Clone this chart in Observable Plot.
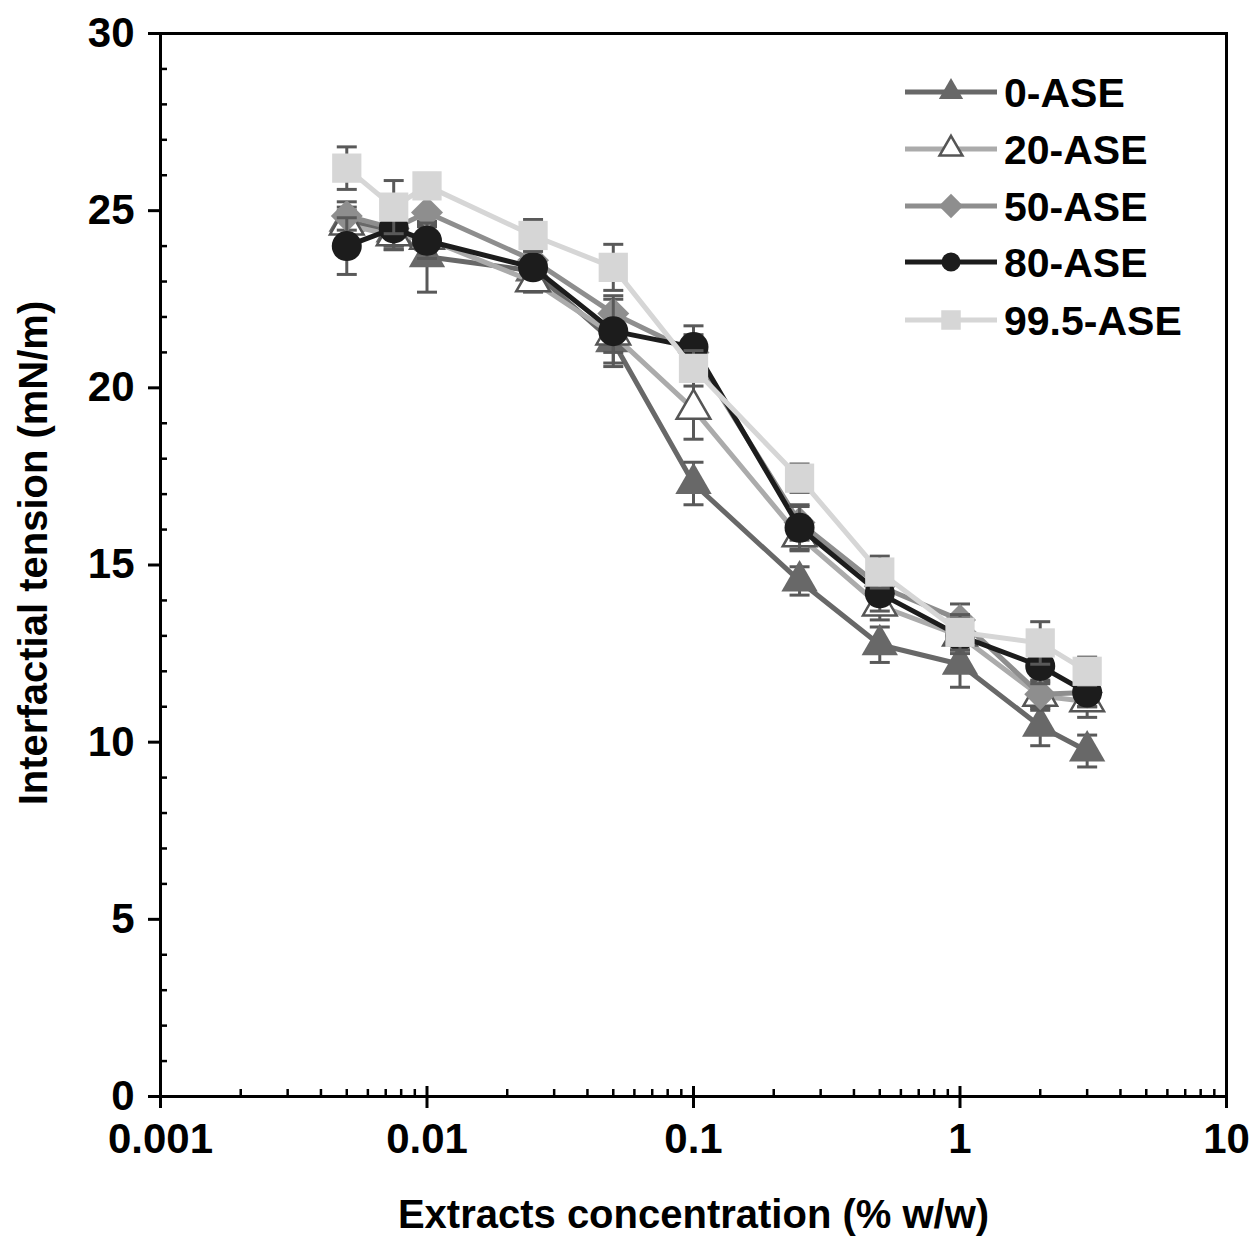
<!DOCTYPE html>
<html><head><meta charset="utf-8">
<script src="https://cdn.jsdelivr.net/npm/d3@7"></script>
<script src="https://cdn.jsdelivr.net/npm/@observablehq/plot@0.6"></script>
<style>
html,body{margin:0;padding:0;background:#fff;}
#wrap{position:relative;width:1253px;height:1236px;}
#legend{position:absolute;left:0;top:0;pointer-events:none;}
</style></head><body><div id="wrap"></div>
<script>
// ---- data ----
const concentrations = [0.005, 0.0075, 0.01, 0.025, 0.05, 0.1, 0.25, 0.5, 1, 2, 3];
const seriesNames = ["0-ASE", "20-ASE", "50-ASE", "80-ASE", "99.5-ASE"];
const ase0     = [24.7, 24.4, 23.7, 23.3, 21.3, 17.3, 14.55, 12.75, 12.2, 10.45, 9.75];
const ase0Err  = [0.4, 0.4, 1.0, 0.3, 0.6, 0.6, 0.4, 0.5, 0.65, 0.55, 0.45];
const ase20    = [24.6, 24.3, 24.2, 23.0, 21.5, 19.4, 15.8, 13.85, 13.0, 11.3, 11.15];
const ase20Err = [0.4, 0.4, 0.4, 0.3, 0.5, 0.85, 0.4, 0.4, 0.4, 0.4, 0.45];
const ase50    = [24.85, 24.5, 24.95, 23.6, 22.1, 21.0, 16.2, 14.4, 13.45, 11.35, 11.4];
const ase50Err = [0.4, 0.5, 0.4, 0.4, 0.4, 0.5, 0.5, 0.4, 0.45, 0.4, 0.4];
const ase80    = [24.0, 24.5, 24.15, 23.4, 21.6, 21.15, 16.05, 14.2, 13.0, 12.15, 11.4];
const ase80Err = [0.8, 0.6, 0.5, 0.3, 1.0, 0.6, 0.6, 0.5, 0.5, 0.5, 0.4];
const ase995    = [26.2, 25.1, 25.7, 24.3, 23.4, 20.55, 17.45, 14.8, 13.1, 12.8, 12.0];
const ase995Err = [0.6, 0.75, 0.35, 0.45, 0.65, 0.5, 0.4, 0.45, 0.5, 0.6, 0.4];
const xTicks = [0.001, 0.01, 0.1, 1, 10];
const xTickLabels = ["0.001", "0.01", "0.1", "1", "10"];
const yTicks = [0, 5, 10, 15, 20, 25, 30];
const xTitle = "Extracts concentration (% w/w)";
const yTitle = "Interfactial tension (mN/m)";

// ---- styles ----
const FONT = "'Liberation Sans', Arial, sans-serif";
const styles = [
  {line: "#686868", symbol: "triangle", fill: "#686868", stroke: "none", sw: 0, r: 13.5, lr: 9},
  {line: "#ababab", symbol: "triangle", fill: "#ffffff", stroke: "#555555", sw: 2.5, r: 12.5, lr: 8.5},
  {line: "#8e8e8e", symbol: "diamond2", fill: "#8e8e8e", stroke: "none", sw: 0, r: 14.4, lr: 11},
  {line: "#1c1c1c", symbol: "circle", fill: "#1c1c1c", stroke: "none", sw: 0, r: 15, lr: 9.5},
  {line: "#d6d6d6", symbol: "square", fill: "#d6d6d6", stroke: "none", sw: 0, r: 16.5, lr: 11}
];
const values = [ase0, ase20, ase50, ase80, ase995];
const errs = [ase0Err, ase20Err, ase50Err, ase80Err, ase995Err];

const series = seriesNames.map((name, i) =>
  concentrations.map((c, j) => ({series: name, x: c, y: values[i][j], err: errs[i][j]})));

const xMinor = [];
for (let e = -3; e < 1; e++) for (let k = 2; k <= 9; k++) xMinor.push(+(k * Math.pow(10, e)).toPrecision(3));
const yMinor = d3.range(1, 30).filter(v => v % 5 !== 0);

const capSymbol = {draw(ctx) { ctx.moveTo(-10, 0); ctx.lineTo(10, 0); }};
const errColor = "#595959";

const marks = [];
series.forEach((data, i) => {
  const s = styles[i];
  marks.push(Plot.line(data, {x: "x", y: "y", stroke: s.line, strokeWidth: 5}));
  marks.push(Plot.ruleX(data, {x: "x", y1: d => d.y - d.err, y2: d => d.y + d.err, stroke: errColor, strokeWidth: 3}));
  marks.push(Plot.dot(data, {x: "x", y: d => d.y + d.err, symbol: capSymbol, stroke: errColor, strokeWidth: 3, fill: "none"}));
  marks.push(Plot.dot(data, {x: "x", y: d => d.y - d.err, symbol: capSymbol, stroke: errColor, strokeWidth: 3, fill: "none"}));
  marks.push(Plot.dot(data, {x: "x", y: "y", symbol: s.symbol, r: s.r, fill: s.fill, stroke: s.stroke, strokeWidth: s.sw}));
});

const chart = Plot.plot({
  width: 1253,
  height: 1236,
  marginLeft: 160,
  marginRight: 27,
  marginTop: 33,
  marginBottom: 140,
  style: {fontFamily: FONT, fontSize: "40px", fontWeight: "bold", color: "#000", background: "#fff"},
  x: {type: "log", domain: [0.001, 10]},
  y: {domain: [0, 30]},
  marks: [
    ...marks,
    Plot.frame({stroke: "#000", strokeWidth: 3}),
    Plot.axisY({ticks: yTicks, tickSize: 12, tickPadding: 14, strokeWidth: 3, label: null, fontSize: 42, fontWeight: "bold"}),
    Plot.axisY({ticks: [], label: yTitle, labelAnchor: "center", labelArrow: "none", labelOffset: 142, fontSize: 40, fontWeight: "bold"}),
    Plot.axisY({ticks: yMinor, tickSize: 7, dx: 7, strokeWidth: 2.5, tickFormat: () => "", label: null}),
    Plot.axisX({ticks: xTicks, tickSize: 12, tickPadding: 15, strokeWidth: 3, tickFormat: (d) => xTickLabels[xTicks.indexOf(d)], label: null, fontSize: 42, fontWeight: "bold"}),
    Plot.axisX({ticks: [], label: xTitle, labelAnchor: "center", labelArrow: "none", labelOffset: 131, fontSize: 40, fontWeight: "bold"}),
    Plot.axisX({ticks: xTicks, tickSize: 10, dy: -10, strokeWidth: 3, tickFormat: () => "", label: null}),
    Plot.axisX({ticks: xMinor, tickSize: 7, dy: -7, strokeWidth: 2.5, tickFormat: () => "", label: null})
  ]
});
const wrap = document.getElementById("wrap");
wrap.appendChild(chart);

// nudge the y-axis title slightly upward, as in the reference
chart.querySelectorAll('[aria-label="y-axis label"]').forEach(g => {
  const t = g.getAttribute("transform") || "";
  g.setAttribute("transform", `translate(0,-12) ${t}`);
});

// ---- legend overlay ----
const leg = d3.select(wrap).append("svg").attr("id", "legend").attr("width", 1253).attr("height", 1236);
const rowY = [92, 149, 206, 262, 320];
const symMap = {triangle: d3.symbolTriangle, diamond2: d3.symbolDiamond2, circle: d3.symbolCircle, square: d3.symbolSquare};
seriesNames.forEach((name, i) => {
  const s = styles[i];
  const g = leg.append("g").attr("transform", `translate(0,${rowY[i]})`);
  g.append("line").attr("x1", 905).attr("x2", 997).attr("y1", 0).attr("y2", 0).attr("stroke", s.line).attr("stroke-width", 5);
  g.append("path").attr("transform", "translate(951,0)")
    .attr("d", d3.symbol(symMap[s.symbol], Math.PI * s.lr * s.lr)())
    .attr("fill", s.fill).attr("stroke", s.stroke === "none" ? null : s.stroke).attr("stroke-width", s.sw);
  g.append("text").attr("x", 1004).attr("y", 15).text(name)
    .attr("font-family", FONT).attr("font-size", 41).attr("font-weight", "bold").attr("fill", "#000");
});
</script></body></html>
